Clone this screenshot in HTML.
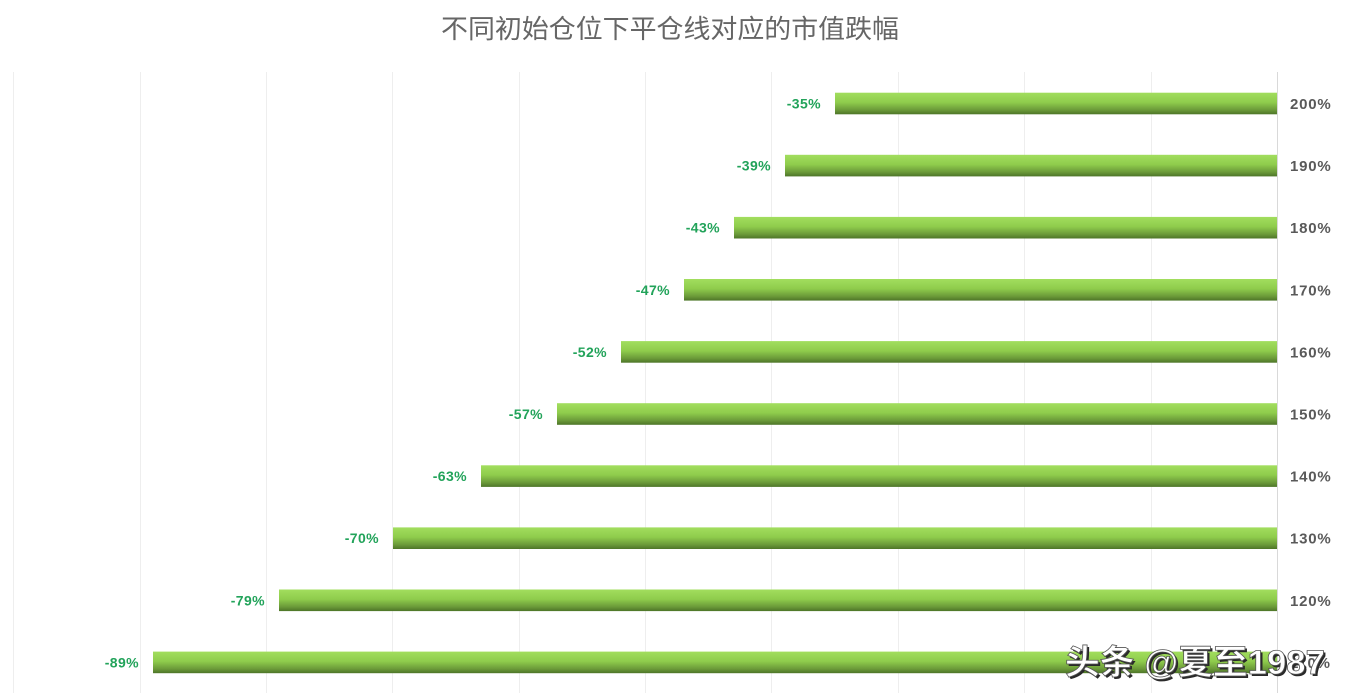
<!DOCTYPE html>
<html>
<head>
<meta charset="utf-8">
<style>
html,body{margin:0;padding:0;background:#fff;}
svg{display:block;}
</style>
</head>
<body>
<svg width="1346" height="700" viewBox="0 0 1346 700" xmlns="http://www.w3.org/2000/svg">
  <defs>
    <linearGradient id="g" x1="0" y1="0" x2="0" y2="1">
      <stop offset="0" stop-color="#a2de5e"/>
      <stop offset="0.45" stop-color="#8fcc4c"/>
      <stop offset="0.8" stop-color="#6b9a39"/>
      <stop offset="1" stop-color="#4d7528"/>
    </linearGradient>
  </defs>
  <rect width="1346" height="700" fill="#ffffff"/>
  <text x="670" y="38" text-anchor="middle" font-family="'Liberation Sans','Noto Sans CJK SC',sans-serif" font-size="26" fill="#666666" textLength="458" lengthAdjust="spacingAndGlyphs">不同初始仓位下平仓线对应的市值跌幅</text>

  <!-- gridlines -->
  <g stroke="#eeeeee" stroke-width="1">
    <line x1="13.5" y1="72" x2="13.5" y2="693"/>
    <line x1="140.5" y1="72" x2="140.5" y2="693"/>
    <line x1="266.5" y1="72" x2="266.5" y2="693"/>
    <line x1="392.5" y1="72" x2="392.5" y2="693"/>
    <line x1="519.5" y1="72" x2="519.5" y2="693"/>
    <line x1="645.5" y1="72" x2="645.5" y2="693"/>
    <line x1="771.5" y1="72" x2="771.5" y2="693"/>
    <line x1="898.5" y1="72" x2="898.5" y2="693"/>
    <line x1="1024.5" y1="72" x2="1024.5" y2="693"/>
    <line x1="1151.5" y1="72" x2="1151.5" y2="693"/>
  </g>

  <!-- bars -->
  <g fill="url(#g)">
    <rect x="835" y="92.7" width="442" height="21.6"/>
    <rect x="785" y="154.8" width="492" height="21.6"/>
    <rect x="734" y="216.9" width="543" height="21.6"/>
    <rect x="684" y="279" width="593" height="21.6"/>
    <rect x="621" y="341.1" width="656" height="21.6"/>
    <rect x="557" y="403.2" width="720" height="21.6"/>
    <rect x="481" y="465.3" width="796" height="21.6"/>
    <rect x="393" y="527.4" width="884" height="21.6"/>
    <rect x="279" y="589.5" width="998" height="21.6"/>
    <rect x="153" y="651.6" width="1124" height="21.6"/>
  </g>
  <line x1="1277.5" y1="72" x2="1277.5" y2="693" stroke="#d9d9d9" stroke-width="1"/>

  <!-- value labels -->
  <g font-family="'Liberation Sans',sans-serif" font-size="14" font-weight="bold" fill="#22a35a" text-anchor="end" letter-spacing="0.4">
    <text x="821" y="108.5">-35%</text>
    <text x="771" y="170.6">-39%</text>
    <text x="720" y="232.7">-43%</text>
    <text x="670" y="294.8">-47%</text>
    <text x="607" y="356.9">-52%</text>
    <text x="543" y="419">-57%</text>
    <text x="467" y="481.1">-63%</text>
    <text x="379" y="543.2">-70%</text>
    <text x="265" y="605.3">-79%</text>
    <text x="139" y="667.4">-89%</text>
  </g>

  <!-- category labels -->
  <g font-family="'Liberation Sans',sans-serif" font-size="15" font-weight="bold" fill="#595959" letter-spacing="0.8">
    <text x="1290" y="109">200%</text>
    <text x="1290" y="171.1">190%</text>
    <text x="1290" y="233.2">180%</text>
    <text x="1290" y="295.3">170%</text>
    <text x="1290" y="357.4">160%</text>
    <text x="1290" y="419.5">150%</text>
    <text x="1290" y="481.6">140%</text>
    <text x="1290" y="543.7">130%</text>
    <text x="1290" y="605.8">120%</text>
    <text x="1290" y="667.9">110%</text>
  </g>

  <!-- watermark -->
  <g font-family="'Liberation Sans','Noto Sans CJK SC',sans-serif" font-size="34" font-weight="bold">
    <text x="1067" y="676" fill="#2a2a2a" textLength="260" lengthAdjust="spacingAndGlyphs">头条 @夏至1987</text>
    <text x="1065" y="674" fill="#ffffff" stroke="#555555" stroke-width="0.8" textLength="260" lengthAdjust="spacingAndGlyphs">头条 @夏至1987</text>
  </g>
</svg>
</body>
</html>
